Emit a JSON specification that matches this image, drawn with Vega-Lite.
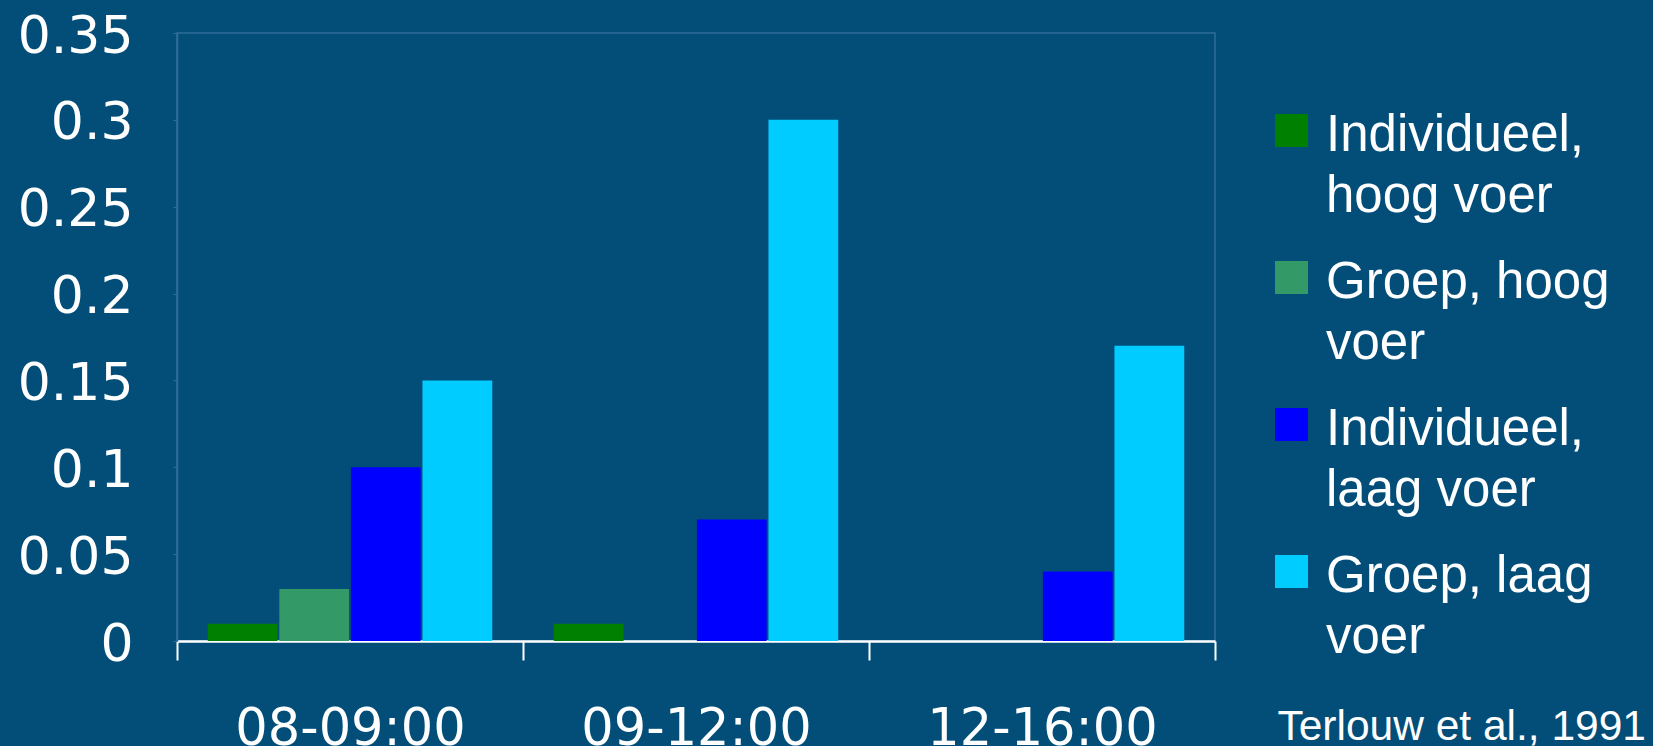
{
  "$schema": "https://vega.github.io/schema/vega-lite/v6.json",
  "width": 1038,
  "height": 608,
  "autosize": {"type": "none"},
  "padding": {"left": 177, "top": 33, "right": 438, "bottom": 105},
  "background": "#034e79",
  "config": {
    "view": {"stroke": "#2f6e98", "strokeWidth": 1.5},
    "style": {"guide-label": {"lineHeight": 61, "dy": -20}}
  },
  "title": {
    "text": "Terlouw et al., 1991",
    "orient": "bottom",
    "anchor": "end",
    "frame": "group",
    "baseline": "alphabetic",
    "font": "Liberation Sans",
    "fontSize": 42.5,
    "fontWeight": "normal",
    "color": "white",
    "dx": 431,
    "offset": -14
  },
  "data": {
    "values": [
      {"period": "08-09:00", "group": "Individueel, hoog voer", "value": 0.01},
      {"period": "08-09:00", "group": "Groep, hoog voer", "value": 0.03},
      {"period": "08-09:00", "group": "Individueel, laag voer", "value": 0.1},
      {"period": "08-09:00", "group": "Groep, laag voer", "value": 0.15},
      {"period": "09-12:00", "group": "Individueel, hoog voer", "value": 0.01},
      {"period": "09-12:00", "group": "Groep, hoog voer", "value": 0},
      {"period": "09-12:00", "group": "Individueel, laag voer", "value": 0.07},
      {"period": "09-12:00", "group": "Groep, laag voer", "value": 0.3},
      {"period": "12-16:00", "group": "Individueel, hoog voer", "value": 0},
      {"period": "12-16:00", "group": "Groep, hoog voer", "value": 0},
      {"period": "12-16:00", "group": "Individueel, laag voer", "value": 0.04},
      {"period": "12-16:00", "group": "Groep, laag voer", "value": 0.17}
    ]
  },
  "mark": {"type": "bar"},
  "encoding": {
    "x": {
      "field": "period",
      "type": "nominal",
      "sort": ["08-09:00", "09-12:00", "12-16:00"],
      "scale": {"paddingInner": 0, "paddingOuter": 0},
      "axis": {
        "title": null,
        "labelAngle": 0,
        "labelFont": "DejaVu Sans",
        "labelFontSize": 51,
        "labelColor": "white",
        "labelPadding": 64,
        "labelLimit": 500,
        "tickBand": "extent",
        "tickSize": 19,
        "tickWidth": 2,
        "tickColor": "white",
        "domainColor": "white",
        "domainWidth": 2.5
      }
    },
    "xOffset": {
      "field": "group",
      "type": "nominal",
      "sort": ["Individueel, hoog voer", "Groep, hoog voer", "Individueel, laag voer", "Groep, laag voer"],
      "scale": {"paddingInner": 0.025, "paddingOuter": 0.43}
    },
    "y": {
      "field": "value",
      "type": "quantitative",
      "scale": {"domain": [0, 0.35], "nice": false},
      "axis": {
        "title": null,
        "values": [0, 0.05, 0.1, 0.15, 0.2, 0.25, 0.3, 0.35],
        "format": "~g",
        "grid": false,
        "labelFont": "DejaVu Sans",
        "labelFontSize": 52,
        "labelColor": "white",
        "labelPadding": 40,
        "labelOffset": 23,
        "tickSize": 4,
        "tickColor": "#2f6e98",
        "domainColor": "#2f6e98",
        "domainWidth": 1.5
      }
    },
    "color": {
      "field": "group",
      "type": "nominal",
      "sort": ["Individueel, hoog voer", "Groep, hoog voer", "Individueel, laag voer", "Groep, laag voer"],
      "scale": {
        "domain": ["Individueel, hoog voer", "Groep, hoog voer", "Individueel, laag voer", "Groep, laag voer"],
        "range": ["#008000", "#339966", "#0000ff", "#00ccff"]
      },
      "legend": {
        "title": null,
        "orient": "none",
        "legendX": 1089,
        "legendY": 72,
        "symbolType": "square",
        "symbolSize": 1089,
        "symbolStrokeWidth": 0,
        "symbolOpacity": 1,
        "labelFont": "Liberation Sans",
        "labelFontSize": 51,
        "labelColor": "white",
        "labelOffset": 9,
        "labelLimit": 400,
        "labelBaseline": "top",
        "rowPadding": 30,
        "labelExpr": "datum.label == 'Individueel, hoog voer' ? ['Individueel,', 'hoog voer'] : datum.label == 'Groep, hoog voer' ? ['Groep, hoog', 'voer'] : datum.label == 'Individueel, laag voer' ? ['Individueel,', 'laag voer'] : ['Groep, laag', 'voer']"
      }
    }
  }
}
